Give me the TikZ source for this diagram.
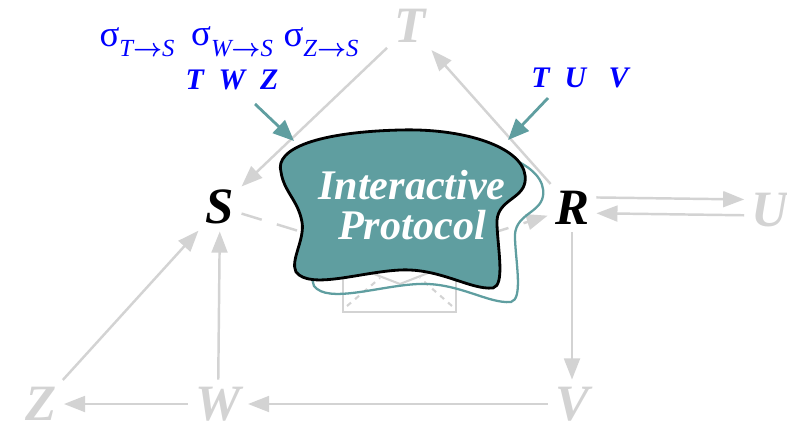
\documentclass[tikz,border=0pt]{standalone}
\usepackage{fontspec}
\usepackage{amsmath}
\setmainfont{Liberation Serif}
\usetikzlibrary{arrows.meta}
\definecolor{prototeal}{HTML}{5F9EA0}
\definecolor{faded}{HTML}{D3D3D3}

\newcommand{\sigmap}[2]{σ\raisebox{-6pt}{\fontsize{14}{14}\selectfont\itshape #1$\boldsymbol{\rightarrow}$#2}}
\newcommand{\blobpath}{(281,172) .. controls (274,148) and (320,132) .. (400,130)
    .. controls (470,128) and (530,150) .. (525,182)
    .. controls (522,200) and (495,200) .. (497,225)
    .. controls (498,250) and (505,285) .. (493,288)
    .. controls (470,290) and (440,268) .. (400,270)
    .. controls (360,272) and (310,290) .. (296,272)
    .. controls (290,260) and (305,240) .. (302,222)
    .. controls (298,200) and (284,192) .. (281,172) -- cycle}

\begin{document}
\begin{tikzpicture}[
    x=0.02cm, y=-0.02cm,
    party/.style={font=\fontsize{29}{29}\selectfont\bfseries\itshape, inner sep=4pt},
    ghost/.style={party, text=faded},
    flow/.style={draw=faded, line width=1.4pt, -{Triangle[length=12pt,width=9pt]}},
    feed/.style={draw=prototeal, line width=1.6pt, -{Triangle[length=12pt,width=10pt]}},
    note/.style={text=blue, font=\fontsize{17}{17}\selectfont\bfseries\itshape},
    sigma/.style={text=blue, font=\fontsize{21}{21}\selectfont}
]
\useasboundingbox (0,0) rectangle (787,430);

% Parties
\node[party] (S) at (220,207) {S};
\node[party] (R) at (572,208) {R};

% Faded parties
\node[ghost] (T) at (410,26) {T};
\node[ghost] (U) at (770,210) {U};
\node[ghost] (V) at (572,404) {V};
\node[ghost] (W) at (218,404) {W};
\node[ghost] (Z) at (41,404) {Z};

% Envelope behind the protocol
\draw[faded, line width=1.2pt] (343,262) rectangle (456,312);
\draw[faded, line width=1.2pt] (343,262) -- (400,284) -- (456,262);
\draw[faded, line width=1.2pt, dashed] (347,306) -- (380,278);
\draw[faded, line width=1.2pt, dashed] (452,306) -- (420,278);
\coordinate (mail) at (400,262);

% Faded flows
\draw[flow] (T) -- (S);
\draw[flow] (R) -- (T);
\draw[flow, dash pattern=on 12pt off 9pt] (S) -- (mail) -- (R);
\draw[flow] ([yshift=6pt]R.east) -- ([yshift=6pt]U.west);
\draw[flow] ([yshift=-3pt]U.west) -- ([yshift=-3pt]R.east);
\draw[flow] (R) -- (V);
\draw[flow] (V) -- (W);
\draw[flow] (W) -- (Z);
\draw[flow] (W) -- (S);
\draw[flow] (Z) -- (S);

% Protocol blob
\draw[prototeal, line width=1.3pt, shift={(18,14)}] \blobpath;
\draw[fill=prototeal, line width=1.6pt] \blobpath;
\node[text=white, font=\fontsize{24}{23}\selectfont\bfseries\itshape, align=center] (proto) at (412,205) {Interactive\\Protocol};

% Inputs
\node[sigma] (sigT) at (137,42) {\sigmap{T}{S}};
\node[sigma] (sigW) at (232,42) {\sigmap{W}{S}};
\node[sigma] (sigZ) at (321,42) {\sigmap{Z}{S}};
\node[note] (twz) at (232,80) {T\ \ W\ \ Z};
\node[note] (tuv) at (580,78) {T\ \ U\ \ \ V};

\coordinate (fromS) at (255,104);
\coordinate (toS) at (294,141);
\coordinate (fromR) at (548,98);
\coordinate (toR) at (508,140);
\draw[feed] (fromS) -- (toS);
\draw[feed] (fromR) -- (toR);

\end{tikzpicture}
\end{document}
